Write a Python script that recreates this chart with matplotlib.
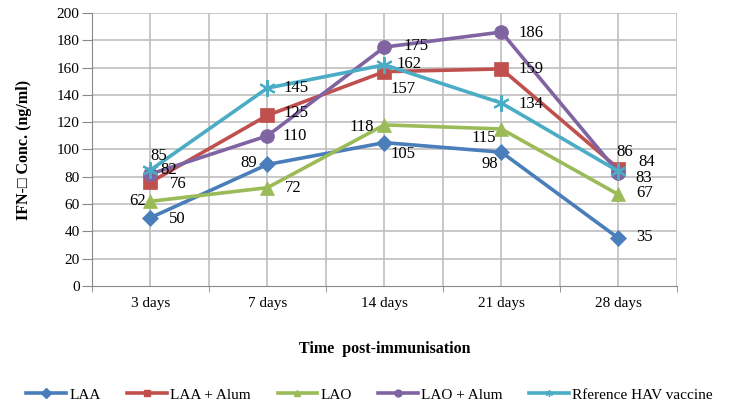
import numpy as np
import matplotlib.pyplot as plt
from matplotlib.lines import Line2D

plt.rcParams['font.family'] = ['Liberation Serif', 'DejaVu Sans']

days = ["3 days", "7 days", "14 days", "21 days", "28 days"]
laa = [50, 89, 105, 98, 35]
laa_alum = [76, 125, 157, 159, 86]
lao = [62, 72, 118, 115, 67]
lao_alum = [82, 110, 175, 186, 83]
ref_hav = [85, 145, 162, 134, 84]

names = ["LAA", "LAA + Alum", "LAO", "LAO + Alum", "Rference HAV vaccine"]
series = [laa, laa_alum, lao, lao_alum, ref_hav]
colors = ["#4A7EBB", "#C0504D", "#9BBB59", "#8064A2", "#4BACC6"]
markers = ["D", "s", "^", "o", (6, 2, 0)]
msizes = [8, 10, 10, 10, 12]

# label offsets in pixels (dx right, dy down)
offs = [
    [(27, 1), (-19, -1), (19, 11), (-12, 12), (26, -1)],
    [(28, 2), (29, -2), (19, 17), (30, 0), (6, -17)],
    [(-13, 0), (26, 0), (-23, 2), (-18, 9), (26, -1)],
    [(18, -4), (27, 0), (32, -1), (30, 1), (25, 5)],
    [(8, -14), (29, 0), (25, -1), (30, 1), (28, -9)],
]

fig = plt.figure(figsize=(7.32, 4.05), dpi=100)
ax = fig.add_axes([0.1257, 0.294, 0.799, 0.674])
x = np.arange(len(days))

for xv in np.arange(-0.5, 4.51, 0.5):
    ax.axvline(xv, color="#BFBFBF", lw=1.2, zorder=0)
for yv in range(20, 201, 20):
    ax.axhline(yv, color="#BFBFBF", lw=1.2, zorder=0)

for s, c, m, ms, o in zip(series, colors, markers, msizes, offs):
    mew = 1.5 if m == (6, 2, 0) else 0.5
    ax.plot(x, s, color=c, lw=2.6, marker=m, markersize=ms, markeredgecolor=c,
            markeredgewidth=mew, zorder=3)
    for xi, v, (dx, dy) in zip(x, s, o):
        ax.annotate(str(v), (xi, v), xytext=(dx * 0.72, -dy * 0.72),
                    textcoords="offset points", ha="center", va="center",
                    fontsize=12, color="black", zorder=4)

ax.set_xlim(-0.5, 4.5)
ax.set_ylim(0, 200)
ax.set_yticks(range(0, 201, 20))
ax.set_xticks(x)
ax.set_xticklabels(days)
ax.set_xticks(np.arange(-0.5, 4.51, 1), minor=True)
ax.tick_params(axis="both", labelsize=11, length=7, color="#888888", pad=2)
ax.tick_params(axis="x", which="major", length=0, pad=8)
ax.tick_params(axis="x", which="minor", length=4, color="#888888")
for sp in ["top", "right"]:
    ax.spines[sp].set_visible(False)
for sp in ["left", "bottom"]:
    ax.spines[sp].set_color("#888888")

ax.set_ylabel("IFN-\u25a1 Conc. (ng/ml)", fontsize=11.5, fontweight="bold")
ax.yaxis.set_label_coords(-0.103, 0.5)
ax.set_xlabel("Time  post-immunisation", fontsize=11.5, fontweight="bold")
ax.xaxis.set_label_coords(0.5, -0.2)

handles = [Line2D([0], [0], color=c, lw=2.6, marker=m, markersize=5, markeredgecolor=c)
           for c, m in zip(colors, markers)]
fig.legend(handles, names, loc="center", ncol=5, frameon=False,
           bbox_to_anchor=(0.505, 0.025), fontsize=11, handlelength=2.6,
           columnspacing=1.75, handletextpad=0.2)

fig.savefig("out.png", dpi=100)
